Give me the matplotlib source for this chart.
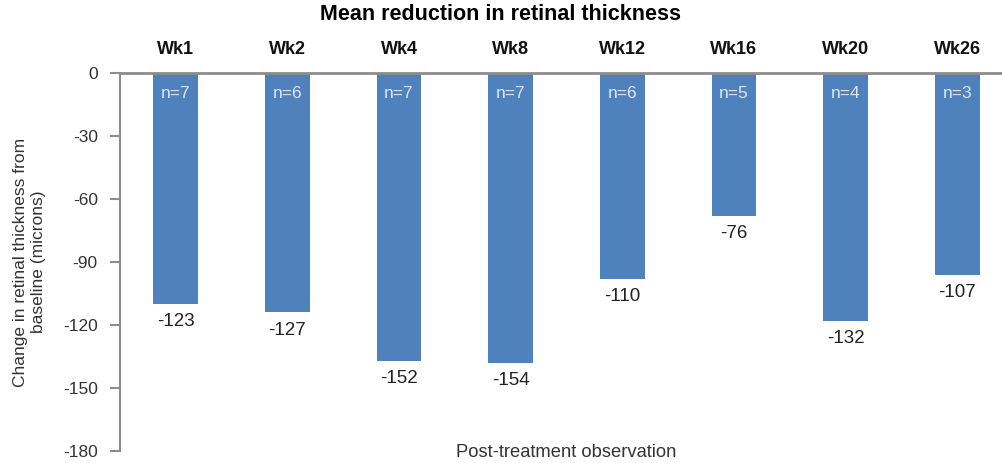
import matplotlib
matplotlib.use("Agg")
import matplotlib.pyplot as plt

weeks = ["Wk1", "Wk2", "Wk4", "Wk8", "Wk12", "Wk16", "Wk20", "Wk26"]
bar_values = [-110, -114, -137, -138, -98, -68, -118, -96]
value_labels = ["-123", "-127", "-152", "-154", "-110", "-76", "-132", "-107"]
n_labels = ["n=7", "n=6", "n=7", "n=7", "n=6", "n=5", "n=4", "n=3"]
y_ticks = [0, -30, -60, -90, -120, -150, -180]

plt.rcParams['font.family'] = ['Liberation Sans', 'DejaVu Sans']

fig = plt.figure(figsize=(10.02, 4.63), dpi=100)
W, H = 1002, 463
x0, x1 = 120, 1013
y0, y1 = 73.3, 450.7
ax = fig.add_axes([x0 / W, (H - y1) / H, (x1 - x0) / W, (y1 - y0) / H])

bar_color = '#4f81bd'
grey = '#8c8c8c'
xs = list(range(len(weeks)))
ax.bar(xs, bar_values, width=0.40, color=bar_color, zorder=2)

ax.set_xlim(-0.5, len(weeks) - 0.5)
ax.set_ylim(-180, 0)

# n labels inside bars, value labels below bars
for x, v, vl, nl in zip(xs, bar_values, value_labels, n_labels):
    ax.annotate(nl, (x, 0), xytext=(0, -20), textcoords='offset pixels',
                ha='center', va='center', fontsize=12.5, color='#dce6f2', zorder=3)
    ax.annotate(vl, (x, v), xytext=(0, -18), textcoords='offset pixels',
                ha='center', va='center', fontsize=13.5, color='#222222', zorder=3)

ax.set_yticks(y_ticks)
ax.set_yticklabels([str(t) for t in y_ticks], fontsize=12.5, color='#333333')
ax.tick_params(axis='y', length=7, width=1.5, color=grey, pad=9, direction='out')

ax.set_xticks(xs)
ax.set_xticklabels(weeks, fontsize=13, fontweight='bold', color='#111111')
ax.tick_params(axis='x', top=True, bottom=False, labeltop=True, labelbottom=False,
               length=0, pad=11)

for s in ['right', 'bottom']:
    ax.spines[s].set_visible(False)
ax.spines['left'].set_color(grey)
ax.spines['left'].set_linewidth(1.5)
ax.spines['top'].set_color(grey)
ax.spines['top'].set_linewidth(2)

ax.set_ylabel("Change in retinal thickness from\nbaseline (microns)", fontsize=12.5,
              color='#333333')
ax.yaxis.set_label_coords(-0.083, 0.5)

ax.text(0.5, -0.005, "Post-treatment observation", transform=ax.transAxes,
        ha='center', va='center', fontsize=13.2, color='#333333')

fig.text(0.5, 1 - 15 / H, "Mean reduction in retinal thickness", ha='center', va='center',
         fontsize=15.5, fontweight='bold', color='#000000')

fig.savefig("out.png", dpi=100)
